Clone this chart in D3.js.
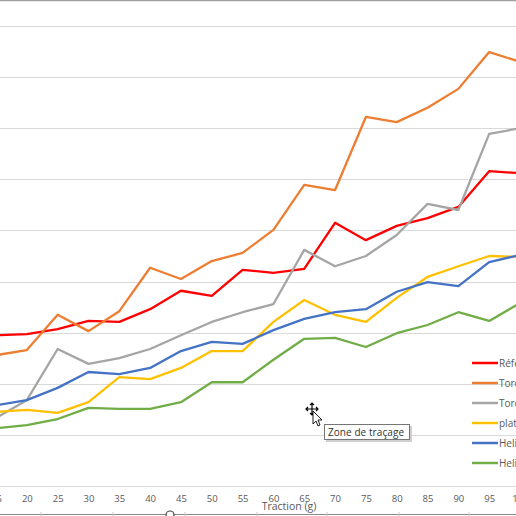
<!DOCTYPE html>
<html>
<head>
<meta charset="utf-8">
<script src="https://cdn.jsdelivr.net/npm/d3@7"></script>
<style>
  body { margin: 0; background: #fff; overflow: hidden; }
  svg { display: block; }
</style>
</head>
<body>
<svg id="chart" width="516" height="516" viewBox="0 0 516 516"></svg>
<script>
// categories on the x axis (traction in grams)
const categories = [15, 20, 25, 30, 35, 40, 45, 50, 55, 60, 65, 70, 75, 80, 85, 90, 95, 100];

// series values
const reference = [29.5, 29.7, 30.7, 32.3, 32.1, 34.6, 38.2, 37.2, 42.3, 41.7, 42.5, 51.5, 48.1, 50.9, 52.4, 54.6, 61.6, 61.2];
const torche1   = [25.6, 26.6, 33.5, 30.3, 34.2, 42.7, 40.5, 44.0, 45.6, 50.1, 58.9, 57.9, 72.2, 71.2, 74.0, 77.7, 84.9, 83.0];
const torche2   = [13.3, 16.8, 26.8, 23.9, 25.0, 26.8, 29.5, 32.1, 34.0, 35.6, 46.2, 43.0, 45.0, 49.1, 55.2, 54.0, 68.9, 70.0];
const plat      = [14.5, 14.9, 14.3, 16.4, 21.3, 20.9, 23.1, 26.4, 26.4, 32.1, 36.4, 33.5, 32.1, 36.8, 40.9, 43.0, 45.0, 44.8];
const helice1   = [15.8, 16.8, 19.2, 22.3, 21.9, 23.1, 26.4, 28.2, 27.8, 30.5, 32.7, 34.0, 34.6, 38.0, 39.9, 39.1, 43.8, 45.2];
const helice2   = [11.3, 11.9, 13.1, 15.3, 15.1, 15.1, 16.4, 20.3, 20.3, 24.7, 28.8, 29.0, 27.2, 29.9, 31.5, 34.0, 32.3, 35.8];

const seriesNames = ["Référence", "Torche 1", "Torche 2", "plat", "Helice 1", "Helice 2"];
const seriesValues = [reference, torche1, torche2, plat, helice1, helice2];
const seriesColors = ["#ff0000", "#ed7d31", "#a5a5a5", "#ffc000", "#4472c4", "#70ad47"];

const yTicks = [0, 10, 20, 30, 40, 50, 60, 70, 80, 90];

const svg = d3.select("#chart");
const width = 516, height = 516;

const x = d3.scalePoint()
    .domain(categories)
    .range([-4, 520]);

const y = d3.scaleLinear()
    .domain([0, 90])
    .range([486, 26]);

// chart border at the very top
svg.append("line")
    .attr("x1", 0).attr("x2", width)
    .attr("y1", 0.5).attr("y2", 0.5)
    .attr("stroke", "#a0a0a0")
    .attr("stroke-width", 1.5);

// horizontal gridlines
svg.append("g")
    .selectAll("line")
    .data(yTicks)
    .enter()
    .append("line")
    .attr("x1", 0).attr("x2", width)
    .attr("y1", d => Math.round(y(d)) + 0.5)
    .attr("y2", d => Math.round(y(d)) + 0.5)
    .attr("stroke", "#d9d9d9")
    .attr("stroke-width", 1);

// x axis labels
const xAxis = svg.append("g")
    .attr("transform", `translate(0, ${y(0)})`)
    .call(d3.axisBottom(x).tickSize(0).tickPadding(9));
xAxis.select(".domain").remove();
xAxis.selectAll("text")
    .attr("font-family", "Open Sans, sans-serif")
    .attr("font-size", "9.5px")
    .attr("fill", "#595959");

// axis title (overlaps the labels, as in the picture)
svg.append("text")
    .attr("x", 289)
    .attr("y", 510)
    .attr("text-anchor", "middle")
    .attr("font-family", "Open Sans, sans-serif")
    .attr("font-size", "10.5px")
    .attr("fill", "#595959")
    .text("Traction (g)");

// series lines
const line = d3.line()
    .x((d, i) => x(categories[i]))
    .y(d => y(d));

svg.append("g")
    .selectAll("path")
    .data(seriesValues)
    .enter()
    .append("path")
    .attr("d", d => line(d))
    .attr("fill", "none")
    .attr("stroke", (d, i) => seriesColors[i])
    .attr("stroke-width", 2.3)
    .attr("stroke-linejoin", "round");

// legend
const legend = svg.append("g")
    .selectAll("g")
    .data(seriesNames)
    .enter()
    .append("g")
    .attr("transform", (d, i) => `translate(472, ${363 + i * 20})`);
legend.append("line")
    .attr("x1", 0).attr("x2", 26)
    .attr("stroke", (d, i) => seriesColors[i])
    .attr("stroke-width", 2.5);
legend.append("text")
    .attr("x", 27)
    .attr("dy", "0.35em")
    .attr("font-family", "Open Sans, sans-serif")
    .attr("font-size", "10px")
    .attr("fill", "#595959")
    .text(d => d);

// spreadsheet row border and column marks below the chart
svg.append("line")
    .attr("x1", 0).attr("x2", width)
    .attr("y1", 514.5).attr("y2", 514.5)
    .attr("stroke", "#8a8a8a");
svg.append("g")
    .selectAll("line")
    .data([41, 113, 185, 257, 327, 399, 469])
    .enter()
    .append("line")
    .attr("x1", d => d).attr("x2", d => d)
    .attr("y1", 512).attr("y2", 516)
    .attr("stroke", "#c8c8c8");
// resize handle of the chart
svg.append("circle")
    .attr("cx", 170).attr("cy", 515)
    .attr("r", 4)
    .attr("fill", "#fff")
    .attr("stroke", "#444")
    .attr("stroke-width", 1.2);

// tooltip "Zone de traçage"
const tip = svg.append("g").attr("transform", "translate(324, 424)");
tip.append("rect")
    .attr("x", 2).attr("y", 2)
    .attr("width", 86).attr("height", 16)
    .attr("fill", "#d0d0d0");
tip.append("rect")
    .attr("x", 0.5).attr("y", 0.5)
    .attr("width", 85).attr("height", 15)
    .attr("fill", "#fff")
    .attr("stroke", "#767676");
tip.append("text")
    .attr("x", 4)
    .attr("y", 11.5)
    .attr("font-family", "Open Sans, sans-serif")
    .attr("font-size", "10px")
    .attr("fill", "#333")
    .attr("textLength", 76)
    .text("Zone de traçage");

// move cursor
const cur = svg.append("g").attr("transform", "translate(312, 409)");
cur.append("path")
    .attr("d", "M0,-6 L0,6 M-6,0 L6,0 M-2,-4 L0,-6 L2,-4 M-2,4 L0,6 L2,4 M-4,-2 L-6,0 L-4,2 M4,-2 L6,0 L4,2")
    .attr("stroke", "#000")
    .attr("stroke-width", 1.2)
    .attr("fill", "none");
cur.append("path")
    .attr("d", "M1,2 L1,15 L4,12 L6,17 L8,16 L6,11 L10,11 Z")
    .attr("fill", "#fff")
    .attr("stroke", "#000")
    .attr("stroke-width", 0.9);
</script>
</body>
</html>
